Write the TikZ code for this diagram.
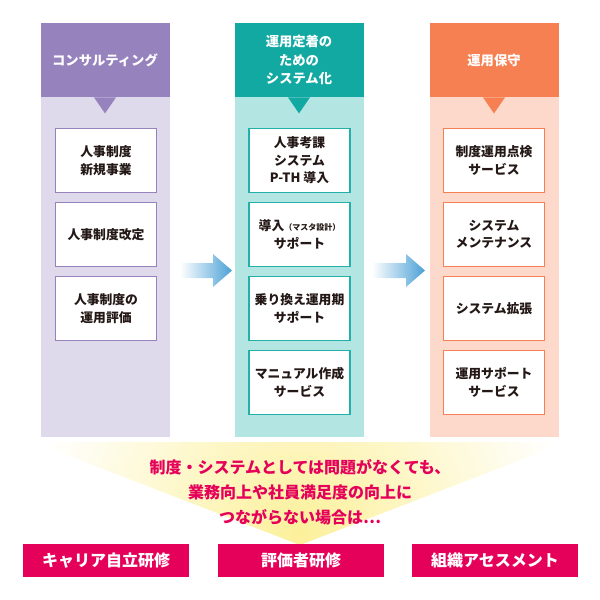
\documentclass[tikz,border=0pt]{standalone}
\usepackage{fontspec}
\setmainfont{Noto Sans CJK JP}
\usepackage{tikz}

\definecolor{purplehead}{HTML}{9683BE}
\definecolor{purplebody}{HTML}{DEDAEC}
\definecolor{tealhead}{HTML}{12A9A3}
\definecolor{tealbody}{HTML}{B3E5E3}
\definecolor{tealline}{HTML}{22B0A8}
\definecolor{orangehead}{HTML}{F68052}
\definecolor{orangebody}{HTML}{FDD9CB}
\definecolor{magenta}{HTML}{E5005A}
\definecolor{arrowblue}{HTML}{4BA1D6}
\definecolor{fanyellow}{HTML}{FCF09A}
\definecolor{boxtext}{HTML}{231815}

\begin{document}
\begin{tikzpicture}[x=1pt,y=-1pt,
  head/.style={minimum width=129pt, minimum height=74pt, inner sep=0pt, align=center,
    text=white, font=\bfseries\fontsize{13.3}{18.5}\selectfont},
  body/.style={minimum width=129pt, minimum height=340pt, inner sep=0pt},
  item/.style={draw, line width=1.2pt, fill=white, minimum width=101pt, minimum height=64pt,
    inner sep=0pt, align=center, text=boxtext, font=\bfseries\fontsize{12.8}{17.5}\selectfont},
  training/.style={fill=magenta, minimum width=166pt, minimum height=33pt, inner sep=0pt,
    text=white, font=\bfseries\fontsize{16}{18}\selectfont}]
\useasboundingbox (0,0) rectangle (600,600);

% columns
\node[body, fill=purplebody, anchor=north] (b1) at (105,97) {};
\node[body, fill=tealbody, anchor=north] (b2) at (299,97) {};
\node[body, fill=orangebody, anchor=north] (b3) at (494,97) {};
\node[head, fill=purplehead, anchor=north] (h1) at (105,23) {コンサルティング};
\node[head, fill=tealhead, anchor=north] (h2) at (299,23) {運用定着の\\ための\\システム化};
\node[head, fill=orangehead, anchor=north] (h3) at (494,23) {運用保守};
\fill[purplehead] ([xshift=-11pt]h1.south) -- ([xshift=11pt]h1.south) -- ([yshift=-16pt]h1.south) -- cycle;
\fill[tealhead] ([xshift=-11pt]h2.south) -- ([xshift=11pt]h2.south) -- ([yshift=-16pt]h2.south) -- cycle;
\fill[orangehead] ([xshift=-11pt]h3.south) -- ([xshift=11pt]h3.south) -- ([yshift=-16pt]h3.south) -- cycle;

\node[item, draw=purplehead] (c1a) at (106,160.5) {人事制度\\新規事業};
\node[item, draw=purplehead] (c1b) at (106,234.5) {人事制度改定};
\node[item, draw=purplehead] (c1c) at (106,308.5) {人事制度の\\運用評価};

\node[item, draw=tealline] (c2a) at (299.5,160.5) {人事考課\\システム\\P-TH 導入};
\node[item, draw=tealline] (c2b) at (299.5,234.5) {導入{\fontsize{8}{10}\selectfont（マスタ設計）}\\サポート};
\node[item, draw=tealline] (c2c) at (299.5,308.5) {乗り換え運用期\\サポート};
\node[item, draw=tealline] (c2d) at (299.5,382.5) {マニュアル作成\\サービス};

\node[item, draw=orangehead] (c3a) at (494,160.5) {制度運用点検\\サービス};
\node[item, draw=orangehead] (c3b) at (494,234.5) {システム\\メンテナンス};
\node[item, draw=orangehead] (c3c) at (494,308.5) {システム拡張};
\node[item, draw=orangehead] (c3d) at (494,382.5) {運用サポート\\サービス};

% arrows
\shade[left color=white, right color=arrowblue] (180,263) -- (213,263) -- (213,254) -- (232,270.5)
  -- (213,287) -- (213,278) -- (180,278) -- cycle;
\shade[left color=white, right color=arrowblue] (372,263) -- (406,263) -- (406,254) -- (425,270.5)
  -- (406,287) -- (406,278) -- (372,278) -- cycle;

% fan
\begin{scope}
\clip (33,442) -- (567,442) -- (300,545) -- cycle;
\shade[inner color=fanyellow, outer color=white] (300,535) circle (270);
\end{scope}
\node[text=magenta, align=center, font=\bfseries\fontsize{16}{25}\selectfont] (note) at (300,492)
  {制度・システムとしては問題がなくても、\\業務向上や社員満足度の向上に\\つながらない場合は…};

\node[training] (t1) at (106,560.5) {キャリア自立研修};
\node[training] (t2) at (301,560.5) {評価者研修};
\node[training] (t3) at (495,560.5) {組織アセスメント};
\end{tikzpicture}
\end{document}
